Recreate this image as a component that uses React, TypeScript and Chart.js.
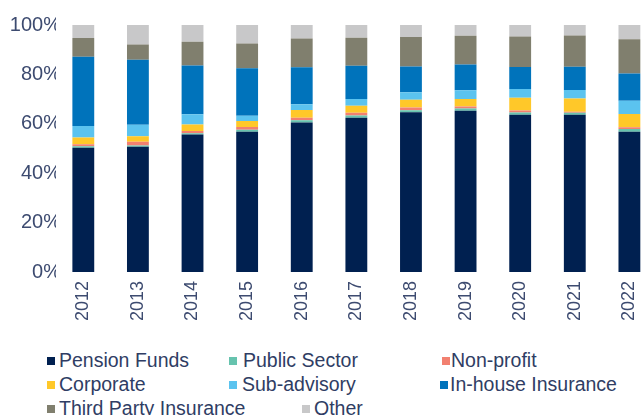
import React, { useEffect, useRef } from 'react';
import { Chart, registerables } from 'chart.js';

Chart.register(...registerables);

const years = ['2012', '2013', '2014', '2015', '2016', '2017', '2018', '2019', '2020', '2021', '2022'];

const pensionFunds = [50.3, 50.7, 55.7, 56.8, 60.5, 62.5, 64.7, 65.3, 63.7, 63.7, 56.8];
const publicSector = [0.6, 0.5, 0.5, 0.8, 0.9, 0.9, 0.8, 0.9, 0.9, 0.8, 1.1];
const nonProfit = [0.8, 1.5, 0.9, 1.1, 1.1, 1.1, 1.1, 0.8, 0.8, 0.4, 0.7];
const corporate = [2.8, 2.3, 2.6, 2.4, 3.1, 2.8, 3.1, 3.0, 5.1, 5.3, 5.4];
const subAdvisory = [4.6, 4.6, 4.2, 2.2, 2.3, 2.7, 3.1, 3.6, 3.6, 3.5, 5.3];
const inHouseInsurance = [28.0, 26.3, 19.7, 19.2, 15.0, 13.5, 10.4, 10.4, 8.9, 9.4, 11.1];
const thirdPartyInsurance = [7.6, 6.2, 9.6, 10.0, 11.6, 11.3, 11.9, 11.6, 12.3, 12.6, 13.8];
const other = [5.3, 7.9, 6.8, 7.5, 5.5, 5.2, 4.9, 4.4, 4.7, 4.3, 5.8];

const yTicks = [0, 20, 40, 60, 80, 100];

const seriesNames = [
  'Pension Funds',
  'Public Sector',
  'Non-profit',
  'Corporate',
  'Sub-advisory',
  'In-house Insurance',
  'Third Party Insurance',
  'Other',
];
const seriesValues = [
  pensionFunds,
  publicSector,
  nonProfit,
  corporate,
  subAdvisory,
  inHouseInsurance,
  thirdPartyInsurance,
  other,
];
const seriesColors = [
  '#002050',
  '#66c3ae',
  '#f28070',
  '#ffc829',
  '#5bc3ef',
  '#0073bb',
  '#807f6e',
  '#c8c8c9',
];

// legend layout (box left x, text left x, row top y)
const legendLayout = [
  { box: 47, text: 59, row: 0 },
  { box: 229, text: 243, row: 0 },
  { box: 442, text: 451, row: 0 },
  { box: 47, text: 59, row: 1 },
  { box: 229, text: 242, row: 1 },
  { box: 440, text: 450, row: 1 },
  { box: 47, text: 59, row: 2 },
  { box: 302, text: 314, row: 2 },
];
const legendRowTops = [349.5, 373.5, 397.5];

const FONT = '"Liberation Sans", Arial, sans-serif';
const TICK_COLOR = '#3d4b70';
const LEGEND_COLOR = '#2f3d64';

export default function App() {
  const canvasRef = useRef<HTMLCanvasElement | null>(null);

  useEffect(() => {
    const canvas = canvasRef.current;
    if (!canvas) return;
    const chart = new Chart(canvas, {
      type: 'bar',
      data: {
        labels: years,
        datasets: seriesNames.map((name, i) => ({
          label: name,
          data: seriesValues[i],
          backgroundColor: seriesColors[i],
          borderWidth: 0,
          categoryPercentage: 1,
          barPercentage: 0.4,
        })),
      },
      options: {
        responsive: false,
        animation: false,
        devicePixelRatio: 1,
        layout: { padding: { top: 25, left: 0, right: 0, bottom: 0 } },
        plugins: {
          legend: { display: false },
          tooltip: { enabled: false },
        },
        scales: {
          x: {
            stacked: true,
            grid: { display: false, drawTicks: false },
            border: { display: false },
            ticks: {
              minRotation: 90,
              maxRotation: 90,
              padding: 9,
              color: TICK_COLOR,
              font: { family: FONT, size: 18 },
            },
            afterFit: (axis: any) => {
              axis.height = 60;
            },
          },
          y: {
            stacked: true,
            min: 0,
            max: 100,
            grid: { display: false, drawTicks: false },
            border: { display: false },
            afterBuildTicks: (axis: any) => {
              axis.ticks = yTicks.map((v) => ({ value: v }));
            },
            ticks: {
              padding: -5,
              color: TICK_COLOR,
              font: { family: FONT, size: 20 },
              callback: (v: any) => `${v}%`,
            },
            afterFit: (axis: any) => {
              axis.width = 56;
            },
          },
        },
      },
    });
    return () => chart.destroy();
  }, []);

  return (
    <div
      style={{
        position: 'fixed',
        left: 0,
        top: 0,
        width: 643,
        height: 415,
        overflow: 'hidden',
        background: '#ffffff',
      }}
    >
      <canvas
        ref={canvasRef}
        width={660}
        height={332}
        style={{ position: 'absolute', left: 0, top: 0, width: 660, height: 332 }}
      />
      {seriesNames.map((name, i) => {
        const L = legendLayout[i];
        const top = legendRowTops[L.row];
        return (
          <React.Fragment key={name}>
            <div
              style={{
                position: 'absolute',
                left: L.box,
                top: top + 7,
                width: 8,
                height: 8,
                background: seriesColors[i],
              }}
            />
            <div
              style={{
                position: 'absolute',
                left: L.text,
                top,
                height: 20,
                lineHeight: '20px',
                fontFamily: FONT,
                fontSize: 19.5,
                color: LEGEND_COLOR,
                whiteSpace: 'nowrap',
              }}
            >
              {name}
            </div>
          </React.Fragment>
        );
      })}
    </div>
  );
}
